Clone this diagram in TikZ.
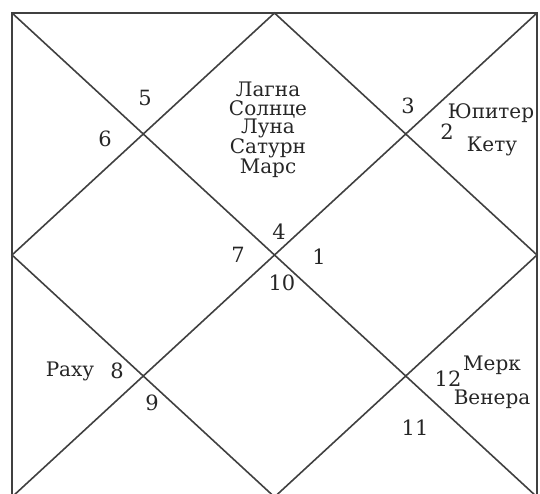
\documentclass[tikz,border=0pt]{standalone}
\usepackage{fontspec}
\setmainfont{DejaVu Serif}
\tikzset{
  chartline/.style={draw=black!75, line width=1.6pt},
  housenum/.style={text=black!85, font=\fontsize{21}{21}\selectfont, inner sep=0pt},
  planet/.style={text=black!85, font=\fontsize{20}{18.5}\selectfont, inner sep=0pt, align=center},
}
\begin{document}
\begin{tikzpicture}[x=1pt,y=-1pt]
    \useasboundingbox (0,0) rectangle (540,494);
    % углы и середины сторон
    \coordinate (tl) at (12,13);
    \coordinate (tr) at (537,13);
    \coordinate (bl) at (12,497);
    \coordinate (br) at (537,497);
    \coordinate (tm) at (274.5,13);
    \coordinate (lm) at (12,255);
    \coordinate (rm) at (537,255);
    \coordinate (bm) at (274.5,497);
    % рамка, диагонали и ромб
    \draw[chartline] (tl) rectangle (br);
    \draw[chartline] (tl) -- (br);
    \draw[chartline] (tr) -- (bl);
    \draw[chartline] (tm) -- (rm) -- (bm) -- (lm) -- cycle;
    % номера домов
    \foreach \n/\x/\y in {1/319/257, 2/447/132, 3/408/106, 4/279/232, 5/145/98, 6/105/139,
                          7/238/255, 8/117/371, 9/152/403, 10/282/283, 11/415/428, 12/448/379} {
        \node[housenum] (h\n) at (\x,\y) {\n};
    }
    % планеты
    \node[planet] (asc) at (268,130) {Лагна\\Солнце\\Луна\\Сатурн\\Марс};
    \node[planet] (jup) at (491,113) {Юпитер};
    \node[planet] (ket) at (492,146) {Кету};
    \node[planet] (rah) at (70,371) {Раху};
    \node[planet] (mer) at (492,365) {Мерк};
    \node[planet] (ven) at (492,399) {Венера};
\end{tikzpicture}
\end{document}
